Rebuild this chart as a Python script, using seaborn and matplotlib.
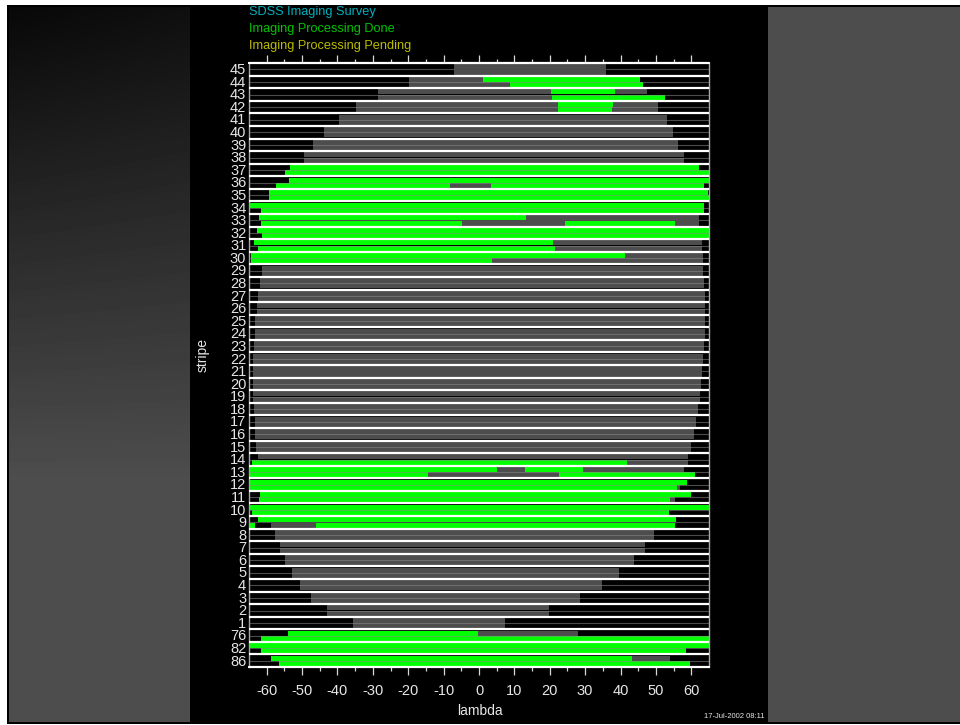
import numpy as np
import matplotlib
matplotlib.use("Agg")
import matplotlib.pyplot as plt
from matplotlib.patches import Rectangle
import seaborn as sns

# ---- survey data: stripes from top to bottom of the chart ----
stripe_labels = [45, 44, 43, 42, 41, 40, 39, 38, 37, 36, 35, 34, 33, 32, 31, 30,
                 29, 28, 27, 26, 25, 24, 23, 22, 21, 20, 19, 18, 17, 16, 15, 14,
                 13, 12, 11, 10, 9, 8, 7, 6, 5, 4, 3, 2, 1, 76, 82, 86]

# footprint (lambda start, lambda end) of the north (upper) strip of each stripe
north_span = [(-7.2, 35.8), (-19.8, 45.5), (-28.5, 47.4), (-34.7, 50.6),
              (-39.7, 53.0), (-43.9, 54.8), (-46.9, 56.3), (-49.5, 57.8),
              (-53.4, 62.1), (-53.6, 65.0), (-59.4, 64.7), (-65.0, 63.5),
              (-62.2, 62.1), (-62.8, 65.0), (-63.6, 62.9), (-64.5, 63.2),
              (-61.2, 63.4), (-62.0, 63.6), (-62.5, 64.0), (-62.7, 64.0),
              (-63.2, 64.0), (-63.4, 64.0), (-63.6, 63.6), (-64.0, 63.4),
              (-64.0, 63.1), (-64.0, 62.7), (-64.0, 62.4), (-63.7, 62.0),
              (-63.4, 61.3), (-63.2, 60.7), (-63.0, 59.8), (-62.5, 59.2),
              (-65.0, 58.0), (-65.0, 58.8), (-61.8, 59.8), (-65.0, 65.0),
              (-62.5, 55.6), (-57.7, 49.5), (-56.3, 47.0), (-54.8, 43.8),
              (-52.9, 39.7), (-50.6, 34.7), (-47.5, 28.5), (-42.9, 19.8),
              (-35.7, 7.3), (-54.1, 28.0), (-65.0, 65.0), (-58.9, 54.0)]

# footprint of the south (lower) strip of each stripe
south_span = [(-7.2, 35.8), (-19.8, 46.4), (-28.5, 52.7), (-34.7, 50.6),
              (-39.7, 53.0), (-43.9, 54.8), (-46.9, 56.3), (-49.5, 57.8),
              (-54.8, 65.0), (-57.5, 63.5), (-59.4, 65.0), (-61.6, 63.6),
              (-61.6, 62.1), (-61.2, 65.0), (-62.5, 62.9), (-64.3, 63.2),
              (-61.2, 63.4), (-62.0, 63.6), (-62.5, 64.0), (-62.7, 64.0),
              (-63.2, 64.0), (-63.4, 64.0), (-63.6, 63.6), (-64.0, 63.4),
              (-64.0, 63.1), (-64.0, 62.7), (-64.0, 62.4), (-63.7, 62.0),
              (-63.4, 61.3), (-63.2, 60.7), (-63.0, 59.8), (-64.2, 59.2),
              (-65.0, 61.0), (-65.0, 56.8), (-62.2, 55.4), (-64.2, 53.7),
              (-58.8, 55.3), (-57.7, 49.5), (-56.3, 47.0), (-54.8, 43.8),
              (-52.9, 39.7), (-50.6, 34.7), (-47.5, 28.5), (-42.9, 19.8),
              (-35.7, 7.3), (-61.6, 65.0), (-61.6, 58.4), (-56.6, 59.6)]

# processed (done) lambda ranges of the north strip, per stripe
north_done = [[], [(1.0, 45.5)], [(20.4, 38.4)], [(22.4, 37.9)],
              [], [], [], [],
              [(-53.4, 62.1)], [(-53.6, 65.0)], [(-59.4, 64.7)], [(-65.0, 63.5)],
              [(-62.2, 13.4)], [(-62.8, 65.0)], [(-63.6, 20.8)], [(-64.5, 41.3)],
              [], [], [], [], [], [], [], [], [], [], [], [], [], [], [], [],
              [(-65.0, 5.0), (12.9, 29.5)], [(-65.0, 58.8)], [(-61.8, 59.8)], [(-65.0, 65.0)],
              [(-62.5, 55.6)], [], [], [], [], [], [], [], [],
              [(-54.1, -0.2)], [(-65.0, 65.0)], [(-58.9, 43.2)]]

# processed (done) lambda ranges of the south strip, per stripe
south_done = [[], [(8.8, 46.4)], [(20.6, 52.7)], [(22.4, 37.7)],
              [], [], [], [],
              [(-54.8, 65.0)], [(-57.5, -8.3), (3.4, 63.5)], [(-59.4, 65.0)], [(-61.6, 63.6)],
              [(-61.6, -4.75), (24.2, 55.5)], [(-61.2, 65.0)], [(-62.5, 21.6)], [(-64.3, 3.8)],
              [], [], [], [], [], [], [], [], [], [], [], [], [], [], [],
              [(-64.2, 41.9)],
              [(-65.0, -14.4), (22.5, 61.0)], [(-65.0, 55.9)], [(-62.2, 53.9)], [(-64.2, 53.7)],
              [(-65.0, -63.4), (-46.1, 55.3)], [], [], [], [], [], [], [], [],
              [(-61.6, 65.0)], [(-61.6, 58.4)], [(-56.6, 59.6)]]

x_major = list(range(-60, 61, 10))
x_minor = list(range(-55, 56, 10))

# ---- style ----
sns.set_style("dark", {"axes.facecolor": "black", "figure.facecolor": "white"})
plt.rcParams["font.family"] = ["Liberation Sans", "DejaVu Sans"]
plt.rcParams["axes.unicode_minus"] = False

FOOT = "#4d4d4d"
DONE = "#00ff00"
TXT = "#e6e6e6"

W, H = 960, 725
fig = plt.figure(figsize=(9.6, 7.25), dpi=100, facecolor="white")


def fbox(x0, y0, x1, y1):
    """Pixel box (top-left origin) -> figure fraction [left, bottom, w, h]."""
    return [x0 / W, 1 - y1 / H, (x1 - x0) / W, (y1 - y0) / H]


# window frame and panels
b = fbox(7, 5, 960, 724)
fig.add_artist(Rectangle((b[0], b[1]), b[2], b[3], transform=fig.transFigure,
                         facecolor="black", edgecolor="none", zorder=0))
b = fbox(768, 7, 960, 722)
fig.add_artist(Rectangle((b[0], b[1]), b[2], b[3], transform=fig.transFigure,
                         facecolor=FOOT, edgecolor="none", zorder=0))

# dark-to-gray shaded side panel on the left
gax = fig.add_axes(fbox(9, 7, 190, 722))
yy, xx = np.mgrid[0:715, 0:181]
t = np.clip(yy / 470.0 + 0.10 * (xx / 181.0) * (1 - yy / 470.0), 0, 1)
shade = 8 + (77 - 8) * t
gax.imshow(shade, cmap="gray", vmin=0, vmax=255, aspect="auto", interpolation="bilinear")
gax.set_axis_off()

# ---- main chart ----
ax = fig.add_axes(fbox(249, 63, 709, 667))
ax.set_facecolor("black")
n = len(stripe_labels)
rows = np.arange(n)

N_Y, S_Y, BAR_H = 0.30, 0.72, 0.40

# survey footprint
ax.barh(rows + N_Y, [hi - lo for lo, hi in north_span], left=[lo for lo, hi in north_span],
        height=BAR_H, color=FOOT, linewidth=0, zorder=1)
ax.barh(rows + S_Y, [hi - lo for lo, hi in south_span], left=[lo for lo, hi in south_span],
        height=BAR_H, color=FOOT, linewidth=0, zorder=1)

# processed segments
for offset, segs_all in ((N_Y, north_done), (S_Y, south_done)):
    ys, lefts, widths = [], [], []
    for r, segs in enumerate(segs_all):
        for lo, hi in segs:
            ys.append(r + offset)
            lefts.append(lo)
            widths.append(hi - lo)
    ax.barh(ys, widths, left=lefts, height=BAR_H, color=DONE, linewidth=0, zorder=2)

# strip divider inside each stripe and white stripe separators
ax.hlines(rows + 0.51, -65, 65, colors="#8a8a8a", alpha=0.55, linewidth=0.8, zorder=3)
ax.hlines(np.arange(n + 1), -65, 65, colors="white", linewidth=1.6, zorder=4, clip_on=False)

ax.set_xlim(-65, 65)
ax.set_ylim(n, 0)

ax.set_xticks(x_major)
ax.set_xticklabels([str(v) for v in x_major])
ax.set_xticks(x_minor, minor=True)
ax.tick_params(axis="x", which="major", direction="out", length=6, width=0.9,
               color="#d8d8d8", top=True, bottom=True, labelcolor=TXT,
               labelsize=10.5, pad=6)
ax.tick_params(axis="x", which="minor", direction="out", length=3, width=0.9,
               color="#d8d8d8", top=True, bottom=True)

ax.set_yticks(rows + 0.45)
ax.set_yticklabels([str(s) for s in stripe_labels])
ax.tick_params(axis="y", length=0, pad=2, labelcolor=TXT, labelsize=10.5)

for side in ("left", "right"):
    ax.spines[side].set_color("#a8a8a8")
    ax.spines[side].set_linewidth(1.0)
for side in ("top", "bottom"):
    ax.spines[side].set_color("white")
    ax.spines[side].set_linewidth(1.4)
ax.grid(False)

# ---- labels ----
fig.text(249 / W, 1 - 12 / H, "SDSS Imaging Survey", color="#00b0bc",
         fontsize=9.2, va="center", ha="left")
fig.text(249 / W, 1 - 29 / H, "Imaging Processing Done", color="#00c400",
         fontsize=9.2, va="center", ha="left")
fig.text(249 / W, 1 - 46 / H, "Imaging Processing Pending", color="#bcbc00",
         fontsize=9.2, va="center", ha="left")
fig.text(203 / W, 1 - 355 / H, "stripe", color=TXT, fontsize=10,
         rotation=90, va="center", ha="center")
fig.text(480 / W, 1 - 711 / H, "lambda", color=TXT, fontsize=10,
         va="center", ha="center")
fig.text(765 / W, 1 - 716 / H, "17-Jul-2002 08:11", color=TXT, fontsize=5.5,
         va="center", ha="right")

fig.savefig("out.png", dpi=100, facecolor="white")
